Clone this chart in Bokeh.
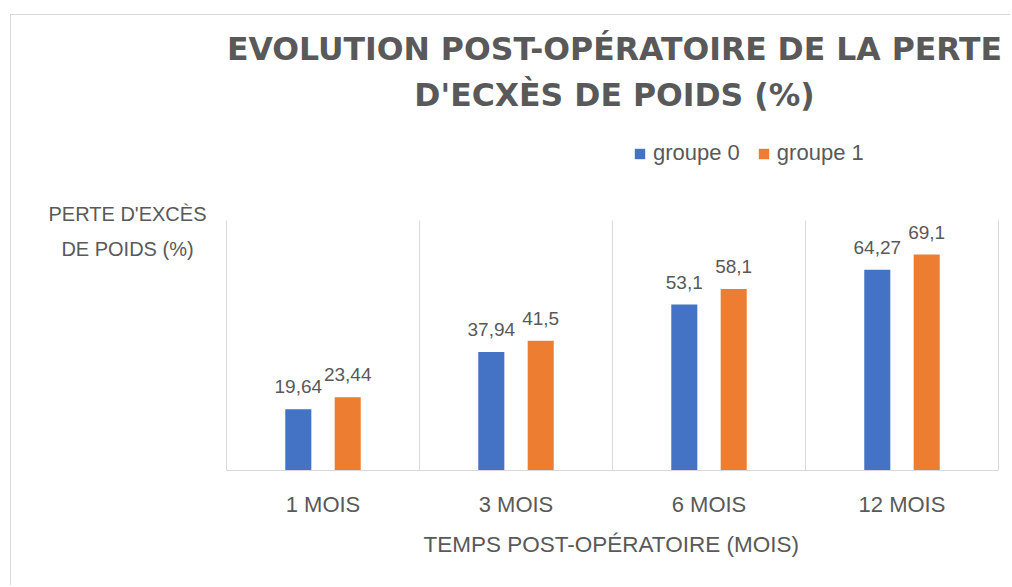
from bokeh.plotting import figure
from bokeh.models import (Range1d, ColumnDataSource, LabelSet, Label, Title,
                          Legend, LegendItem, FixedTicker)
from bokeh.embed import file_html
from bokeh.resources import INLINE
from bokeh.core.properties import value

# ---- data ----
categories = ["1 MOIS", "3 MOIS", "6 MOIS", "12 MOIS"]
groupe_0 = [19.64, 37.94, 53.1, 64.27]
groupe_1 = [23.44, 41.5, 58.1, 69.1]
series_names = ["groupe 0", "groupe 1"]
title_lines = ["EVOLUTION POST-OPÉRATOIRE DE LA PERTE", "D'ECXÈS DE POIDS (%)"]
y_title_lines = ["PERTE D'EXCÈS", "DE POIDS (%)"]
x_title = "TEMPS POST-OPÉRATOIRE (MOIS)"
y_max = 80

GRAY = "#595959"
LIGHT = "#d9d9d9"
BLUE = "#4472C4"
ORANGE = "#ED7D31"

# ---- geometry (pixels) ----
W, H = 1000, 571
FRAME_B = 116
frame_w = W                                # frame covers the whole chart width
frame_h = H - FRAME_B                      # and height above the axis
plot_left_px = 215                         # px from frame left to the plot area
plot_w_px = 772                            # width of the plot area
cat_px = plot_w_px / len(categories)
plot_h = 250                               # px between baseline and top of grid lines
n = len(categories)
x_start = -plot_left_px / cat_px
x_end = n + (frame_w - plot_left_px - plot_w_px) / cat_px
y_top = y_max * frame_h / plot_h

centers = [i + 0.5 for i in range(n)]
off = 0.128
bw = 0.135


def fmt(v):
    return str(v).replace(".", ",")


src = ColumnDataSource(dict(
    x0=[c - off for c in centers],
    x1=[c + off for c in centers],
    g0=groupe_0,
    g1=groupe_1,
    t0=[fmt(v) for v in groupe_0],
    t1=[fmt(v) for v in groupe_1],
))

p = figure(x_range=Range1d(x_start, x_end), y_range=Range1d(0, y_top),
           width=W, height=H, output_backend="svg", toolbar_location=None,
           min_border_left=0, min_border_right=0, min_border_top=0,
           min_border_bottom=FRAME_B, margin=(14, 0, 0, 10),
           styles={"border-left": "1px solid #d9d9d9", "border-top": "1px solid #d9d9d9"})
p.outline_line_color = None
p.xgrid.visible = False
p.ygrid.visible = False
p.yaxis.visible = False
p.background_fill_color = "white"
p.border_fill_color = "white"

r0 = p.vbar(x="x0", top="g0", width=bw, source=src, fill_color=BLUE, line_color=None)
r1 = p.vbar(x="x1", top="g1", width=bw, source=src, fill_color=ORANGE, line_color=None)

# category separators (from baseline to top of value axis)
bounds = list(range(n + 1))
p.segment(x0=bounds, x1=bounds, y0=[0] * len(bounds), y1=[y_max] * len(bounds),
          line_color=LIGHT, line_width=1)

# data labels
for xcol, col, tcol in (("x0", "g0", "t0"), ("x1", "g1", "t1")):
    p.add_layout(LabelSet(x=xcol, y=col, text=tcol, source=src,
                          text_align="center", text_baseline="alphabetic", y_offset=16,
                          text_font=value("Liberation Sans"), text_font_size="19px",
                          text_color=GRAY))

# x axis (category axis limited to the plot area)
ax = p.xaxis[0]
ax.ticker = FixedTicker(ticks=centers)
ax.major_label_overrides = {c: cat for c, cat in zip(centers, categories)}
ax.bounds = (0, n)
ax.axis_line_color = LIGHT
ax.axis_line_width = 1
ax.major_tick_line_color = None
ax.minor_tick_line_color = None
ax.major_label_text_font = "Liberation Sans"
ax.major_label_text_font_size = "22px"
ax.major_label_text_color = GRAY
ax.major_label_standoff = 15

# x axis title, centred under the plot area
p.add_layout(Title(text=x_title, align="left", offset=412, standoff=20,
                   text_font="Liberation Sans", text_font_size="22.5px",
                   text_font_style="normal", text_color=GRAY), "below")

# chart title (two centred lines)
for txt, yy in zip(title_lines, (422, 376)):
    p.add_layout(Label(x=603, y=yy, x_units="screen", y_units="screen", text=txt,
                       text_align="center", text_baseline="alphabetic",
                       text_font="DejaVu Sans", text_font_style="bold",
                       text_font_size="31.5px", text_color=GRAY))

# value axis title (horizontal, two centred lines, top left)
for txt, yy in zip(y_title_lines, (257, 222)):
    p.add_layout(Label(x=116, y=yy, x_units="screen", y_units="screen", text=txt,
                       text_align="center", text_baseline="alphabetic",
                       text_font="Liberation Sans", text_font_size="20px",
                       text_color=GRAY))

legend = Legend(items=[LegendItem(label=series_names[0], renderers=[r0]),
                       LegendItem(label=series_names[1], renderers=[r1])],
                location=(622, 304), orientation="horizontal",
                glyph_width=13, glyph_height=13, label_standoff=7, spacing=17,
                padding=0, margin=0, border_line_color=None, background_fill_alpha=0,
                label_height=22, label_text_font="Liberation Sans",
                label_text_font_size="22px", label_text_color=GRAY)
p.add_layout(legend)

open("out.html", "w").write(file_html(p, INLINE))
